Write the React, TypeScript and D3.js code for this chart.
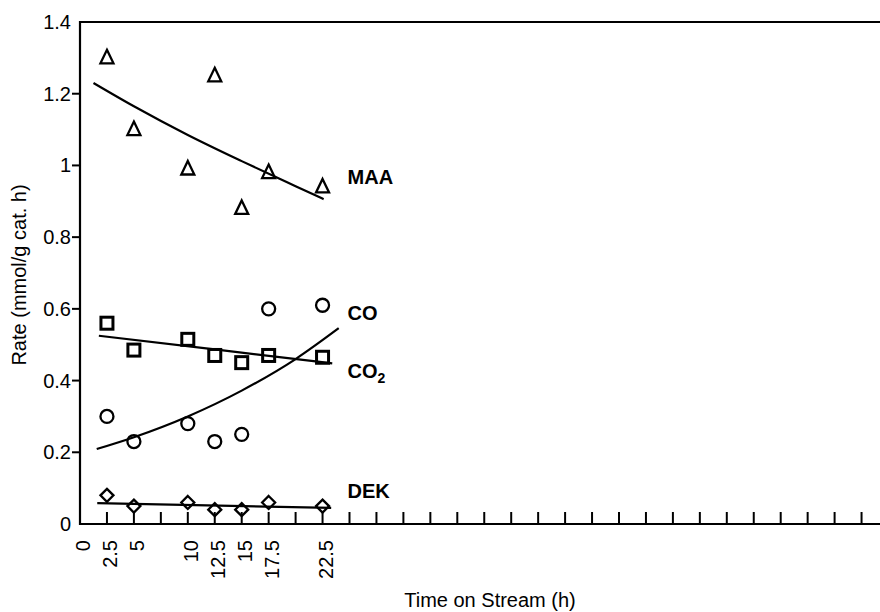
import React, { useEffect, useRef } from "react";
import * as d3 from "d3";

// sampling times (h)
const times = [2.5, 5, 10, 12.5, 15, 17.5, 22.5];

// measured rates, mmol/(g cat. h)
const maa = [1.3, 1.1, 0.99, 1.25, 0.88, 0.98, 0.94];
const co = [0.3, 0.23, 0.28, 0.23, 0.25, 0.6, 0.61];
const co2 = [0.56, 0.485, 0.515, 0.47, 0.45, 0.47, 0.465];
const dek = [0.08, 0.05, 0.06, 0.04, 0.04, 0.06, 0.05];

// trend lines: [time, rate]
const maaFit: [number, number][] = [[1.25, 1.23], [5, 1.165], [10, 1.085], [15, 1.012], [20, 0.942], [22.6, 0.906]];
const coFit: [number, number][] = [[1.55, 0.209], [5, 0.242], [10, 0.3], [15, 0.372], [20, 0.46], [24, 0.546]];
const co2Fit: [number, number][] = [[1.75, 0.525], [12.5, 0.487], [23.4, 0.448]];
const dekFit: [number, number][] = [[1.6, 0.058], [23.3, 0.045]];

const xTickLabels = [0, 2.5, 5, 10, 12.5, 15, 17.5, 22.5];
const yTicks = [0, 0.2, 0.4, 0.6, 0.8, 1, 1.2, 1.4];

const FONT = "'Liberation Sans', Arial, Helvetica, sans-serif";

export default function App() {
  const ref = useRef<SVGSVGElement>(null);

  useEffect(() => {
    const svg = d3.select(ref.current);
    svg.selectAll("*").remove();

    const x = d3.scaleLinear().domain([0, 75]).range([80, 888.5]);
    const y = d3.scaleLinear().domain([0, 1.4]).range([524, 22]);

    const g = svg.append("g").attr("font-family", FONT);

    // frame: left axis, top border, bottom axis
    g.append("path")
      .attr("d", `M${x(75)},${y(1.4)}H${x(0)}V${y(0)}H${x(75)}`)
      .attr("fill", "none")
      .attr("stroke", "#000")
      .attr("stroke-width", 2.2);

    // x ticks every 2.5 h, pointing inward
    const xt = d3.range(1, 31).map((i) => i * 2.5);
    g.selectAll(".xt")
      .data(xt)
      .enter()
      .append("line")
      .attr("x1", (d) => x(d))
      .attr("x2", (d) => x(d))
      .attr("y1", y(0))
      .attr("y2", y(0) - 12)
      .attr("stroke", "#000")
      .attr("stroke-width", 2);

    g.selectAll(".xl")
      .data(xTickLabels)
      .enter()
      .append("text")
      .attr("transform", (d) => `translate(${x(d) + 3},${y(0) + 16}) rotate(-90)`)
      .attr("text-anchor", "end")
      .attr("dy", "0.35em")
      .attr("font-size", 20)
      .text((d) => String(d));

    // y ticks
    g.selectAll(".yt")
      .data(yTicks.filter((d) => d > 0 && d < 1.4))
      .enter()
      .append("line")
      .attr("x1", x(0) - 8)
      .attr("x2", x(0))
      .attr("y1", (d) => y(d))
      .attr("y2", (d) => y(d))
      .attr("stroke", "#000")
      .attr("stroke-width", 2);

    g.selectAll(".yl")
      .data(yTicks)
      .enter()
      .append("text")
      .attr("x", 71)
      .attr("y", (d) => y(d))
      .attr("dy", "0.35em")
      .attr("text-anchor", "end")
      .attr("font-size", 20)
      .text((d) => String(d));

    // axis titles
    g.append("text")
      .attr("x", 490)
      .attr("y", 607)
      .attr("text-anchor", "middle")
      .attr("font-size", 20)
      .text("Time on Stream (h)");

    g.append("text")
      .attr("transform", `translate(26,275) rotate(-90)`)
      .attr("text-anchor", "middle")
      .attr("font-size", 20)
      .text("Rate (mmol/g cat. h)");

    // trend lines
    const line = d3
      .line<[number, number]>()
      .x((d) => x(d[0]))
      .y((d) => y(d[1]))
      .curve(d3.curveMonotoneX);

    [maaFit, coFit, co2Fit, dekFit].forEach((f) => {
      g.append("path")
        .attr("d", line(f))
        .attr("fill", "none")
        .attr("stroke", "#000")
        .attr("stroke-width", 2.2);
    });

    const pts = (vals: number[]) => times.map((t, i) => ({ t, v: vals[i] }));
    const sw = 2.3;

    // CO circles
    g.selectAll(".co")
      .data(pts(co))
      .enter()
      .append("circle")
      .attr("cx", (d) => x(d.t))
      .attr("cy", (d) => y(d.v))
      .attr("r", 6.5)
      .attr("fill", "none")
      .attr("stroke", "#000")
      .attr("stroke-width", sw);

    // CO2 squares
    g.selectAll(".co2")
      .data(pts(co2))
      .enter()
      .append("rect")
      .attr("x", (d) => x(d.t) - 6)
      .attr("y", (d) => y(d.v) - 6)
      .attr("width", 12)
      .attr("height", 12)
      .attr("fill", "none")
      .attr("stroke", "#000")
      .attr("stroke-width", 3);

    // MAA triangles
    g.selectAll(".maa")
      .data(pts(maa))
      .enter()
      .append("path")
      .attr("d", (d) => {
        const cx = x(d.t), cy = y(d.v);
        return `M${cx},${cy - 8}L${cx + 6.5},${cy + 5.5}L${cx - 6.5},${cy + 5.5}Z`;
      })
      .attr("fill", "none")
      .attr("stroke", "#000")
      .attr("stroke-width", sw);

    // DEK diamonds
    g.selectAll(".dek")
      .data(pts(dek))
      .enter()
      .append("path")
      .attr("d", (d) => {
        const cx = x(d.t), cy = y(d.v);
        return `M${cx},${cy - 6.5}L${cx + 6.5},${cy}L${cx},${cy + 6.5}L${cx - 6.5},${cy}Z`;
      })
      .attr("fill", "none")
      .attr("stroke", "#000")
      .attr("stroke-width", sw);

    // series labels next to the last point
    const lx = x(22.5) + 25;
    const lab = (yy: number) =>
      g.append("text")
        .attr("x", lx)
        .attr("y", yy)
        .attr("font-size", 20)
        .attr("font-weight", "bold");
    lab(y(0.948)).text("MAA");
    lab(y(0.57)).text("CO");
    const c2 = lab(y(0.408));
    c2.append("tspan").text("CO");
    c2.append("tspan").attr("font-size", 14).attr("dy", 5).text("2");
    lab(y(0.072)).text("DEK");
  }, []);

  return (
    <svg
      ref={ref}
      width={880}
      height={612}
      style={{ position: "absolute", left: 0, top: 0, background: "#fff" }}
    />
  );
}
